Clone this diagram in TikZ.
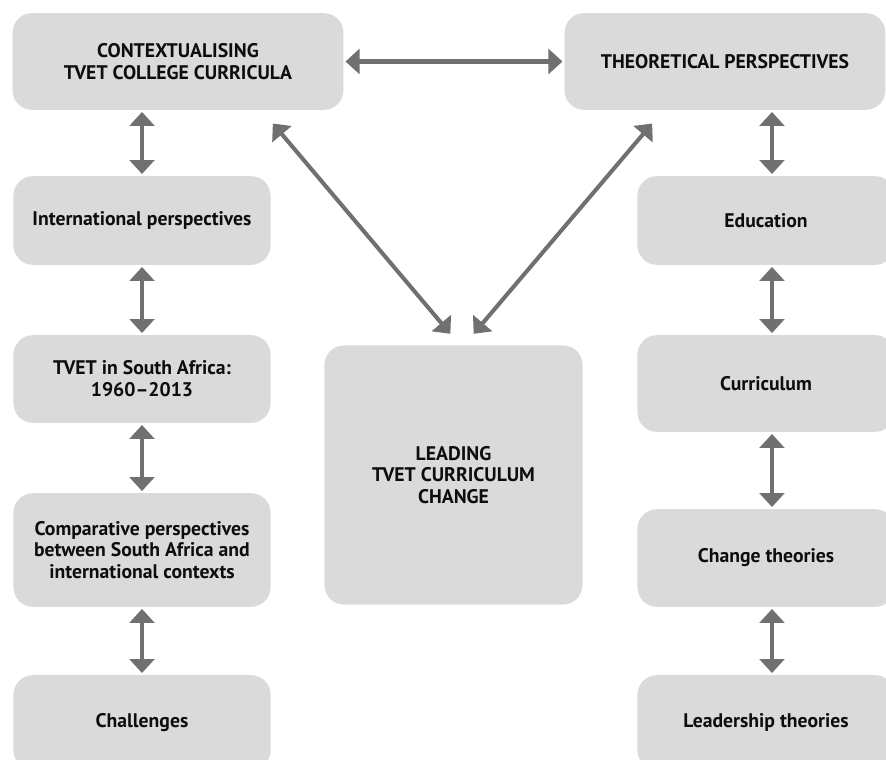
\documentclass[tikz,border=0pt]{standalone}
\usepackage{fontspec}
\setmainfont{PT Sans}
\usetikzlibrary{arrows.meta,positioning}

\definecolor{boxgray}{HTML}{DADADA}
\definecolor{arrowgray}{HTML}{707070}

\tikzset{
  box/.style={fill=boxgray, rounded corners=11pt, inner sep=0pt, align=center,
    font=\bfseries\fontsize{11.2pt}{12.4pt}\selectfont, text=black!95},
  link/.style={{Triangle[width=14pt,length=8pt]}-{Triangle[width=14pt,length=8pt]},
    line width=2.3pt, draw=arrowgray, shorten <=1pt, shorten >=1pt}
}

\begin{document}
\begin{tikzpicture}[x=0.02cm, y=-0.02cm]
			\useasboundingbox (0,0) rectangle (886,760);
			
			% top row and centre
			\node[box, minimum width=332*0.567pt, minimum height=97*0.567pt] (ctx) at (178,61.5) {CONTEXTUALISING\\TVET COLLEGE CURRICULA};
			\node[box, minimum width=322*0.567pt, minimum height=97*0.567pt] (theo) at (725,61.5) {THEORETICAL PERSPECTIVES};
			\node[box, minimum width=259*0.567pt, minimum height=260*0.567pt] (lead) at (453.5,475) {LEADING\\TVET CURRICULUM\\CHANGE};
			
			% left column
			\node[box, minimum width=258*0.567pt, minimum height=89*0.567pt] (intl) at (142,220.5) {International perspectives};
			\node[box, minimum width=258*0.567pt, minimum height=88*0.567pt] (sa) at (142,379) {TVET in South Africa:\\1960--2013};
			\node[box, minimum width=258*0.567pt, minimum height=114*0.567pt] (comp) at (142,550) {Comparative perspectives\\between South Africa and\\international contexts};
			\node[box, minimum width=258*0.567pt, minimum height=95*0.567pt] (chal) at (142,722.5) {Challenges};
			
			% right column
			\node[box, minimum width=258*0.567pt, minimum height=89*0.567pt] (edu) at (766,220.5) {Education};
			\node[box, minimum width=258*0.567pt, minimum height=97*0.567pt] (curr) at (766,383.5) {Curriculum};
			\node[box, minimum width=258*0.567pt, minimum height=98*0.567pt] (chg) at (766,558) {Change theories};
			\node[box, minimum width=258*0.567pt, minimum height=95*0.567pt] (ldr) at (766,722.5) {Leadership theories};
			
			\draw[link] (ctx.east) -- (theo.west);
			\draw[link] ([shift={(-72,12)}]ctx.south east) -- ([shift={(-2,-10)}]lead.north);
			\draw[link] ([shift={(89,12)}]theo.south west) -- ([shift={(19,-10)}]lead.north);
			
			\draw[link] (intl.north |- ctx.south) -- (intl.north);
			\draw[link] ([xshift=6*0.567pt]edu.north |- theo.south) -- ([xshift=6*0.567pt]edu.north);
			\foreach \a/\b in {intl/sa, sa/comp, comp/chal} {
				\draw[link] (\a.south) -- (\b.north);
			}
			\foreach \a/\b in {edu/curr, curr/chg, chg/ldr} {
				\draw[link] ([xshift=6*0.567pt]\a.south) -- ([xshift=6*0.567pt]\b.north);
			}
		\end{tikzpicture}
\end{document}
